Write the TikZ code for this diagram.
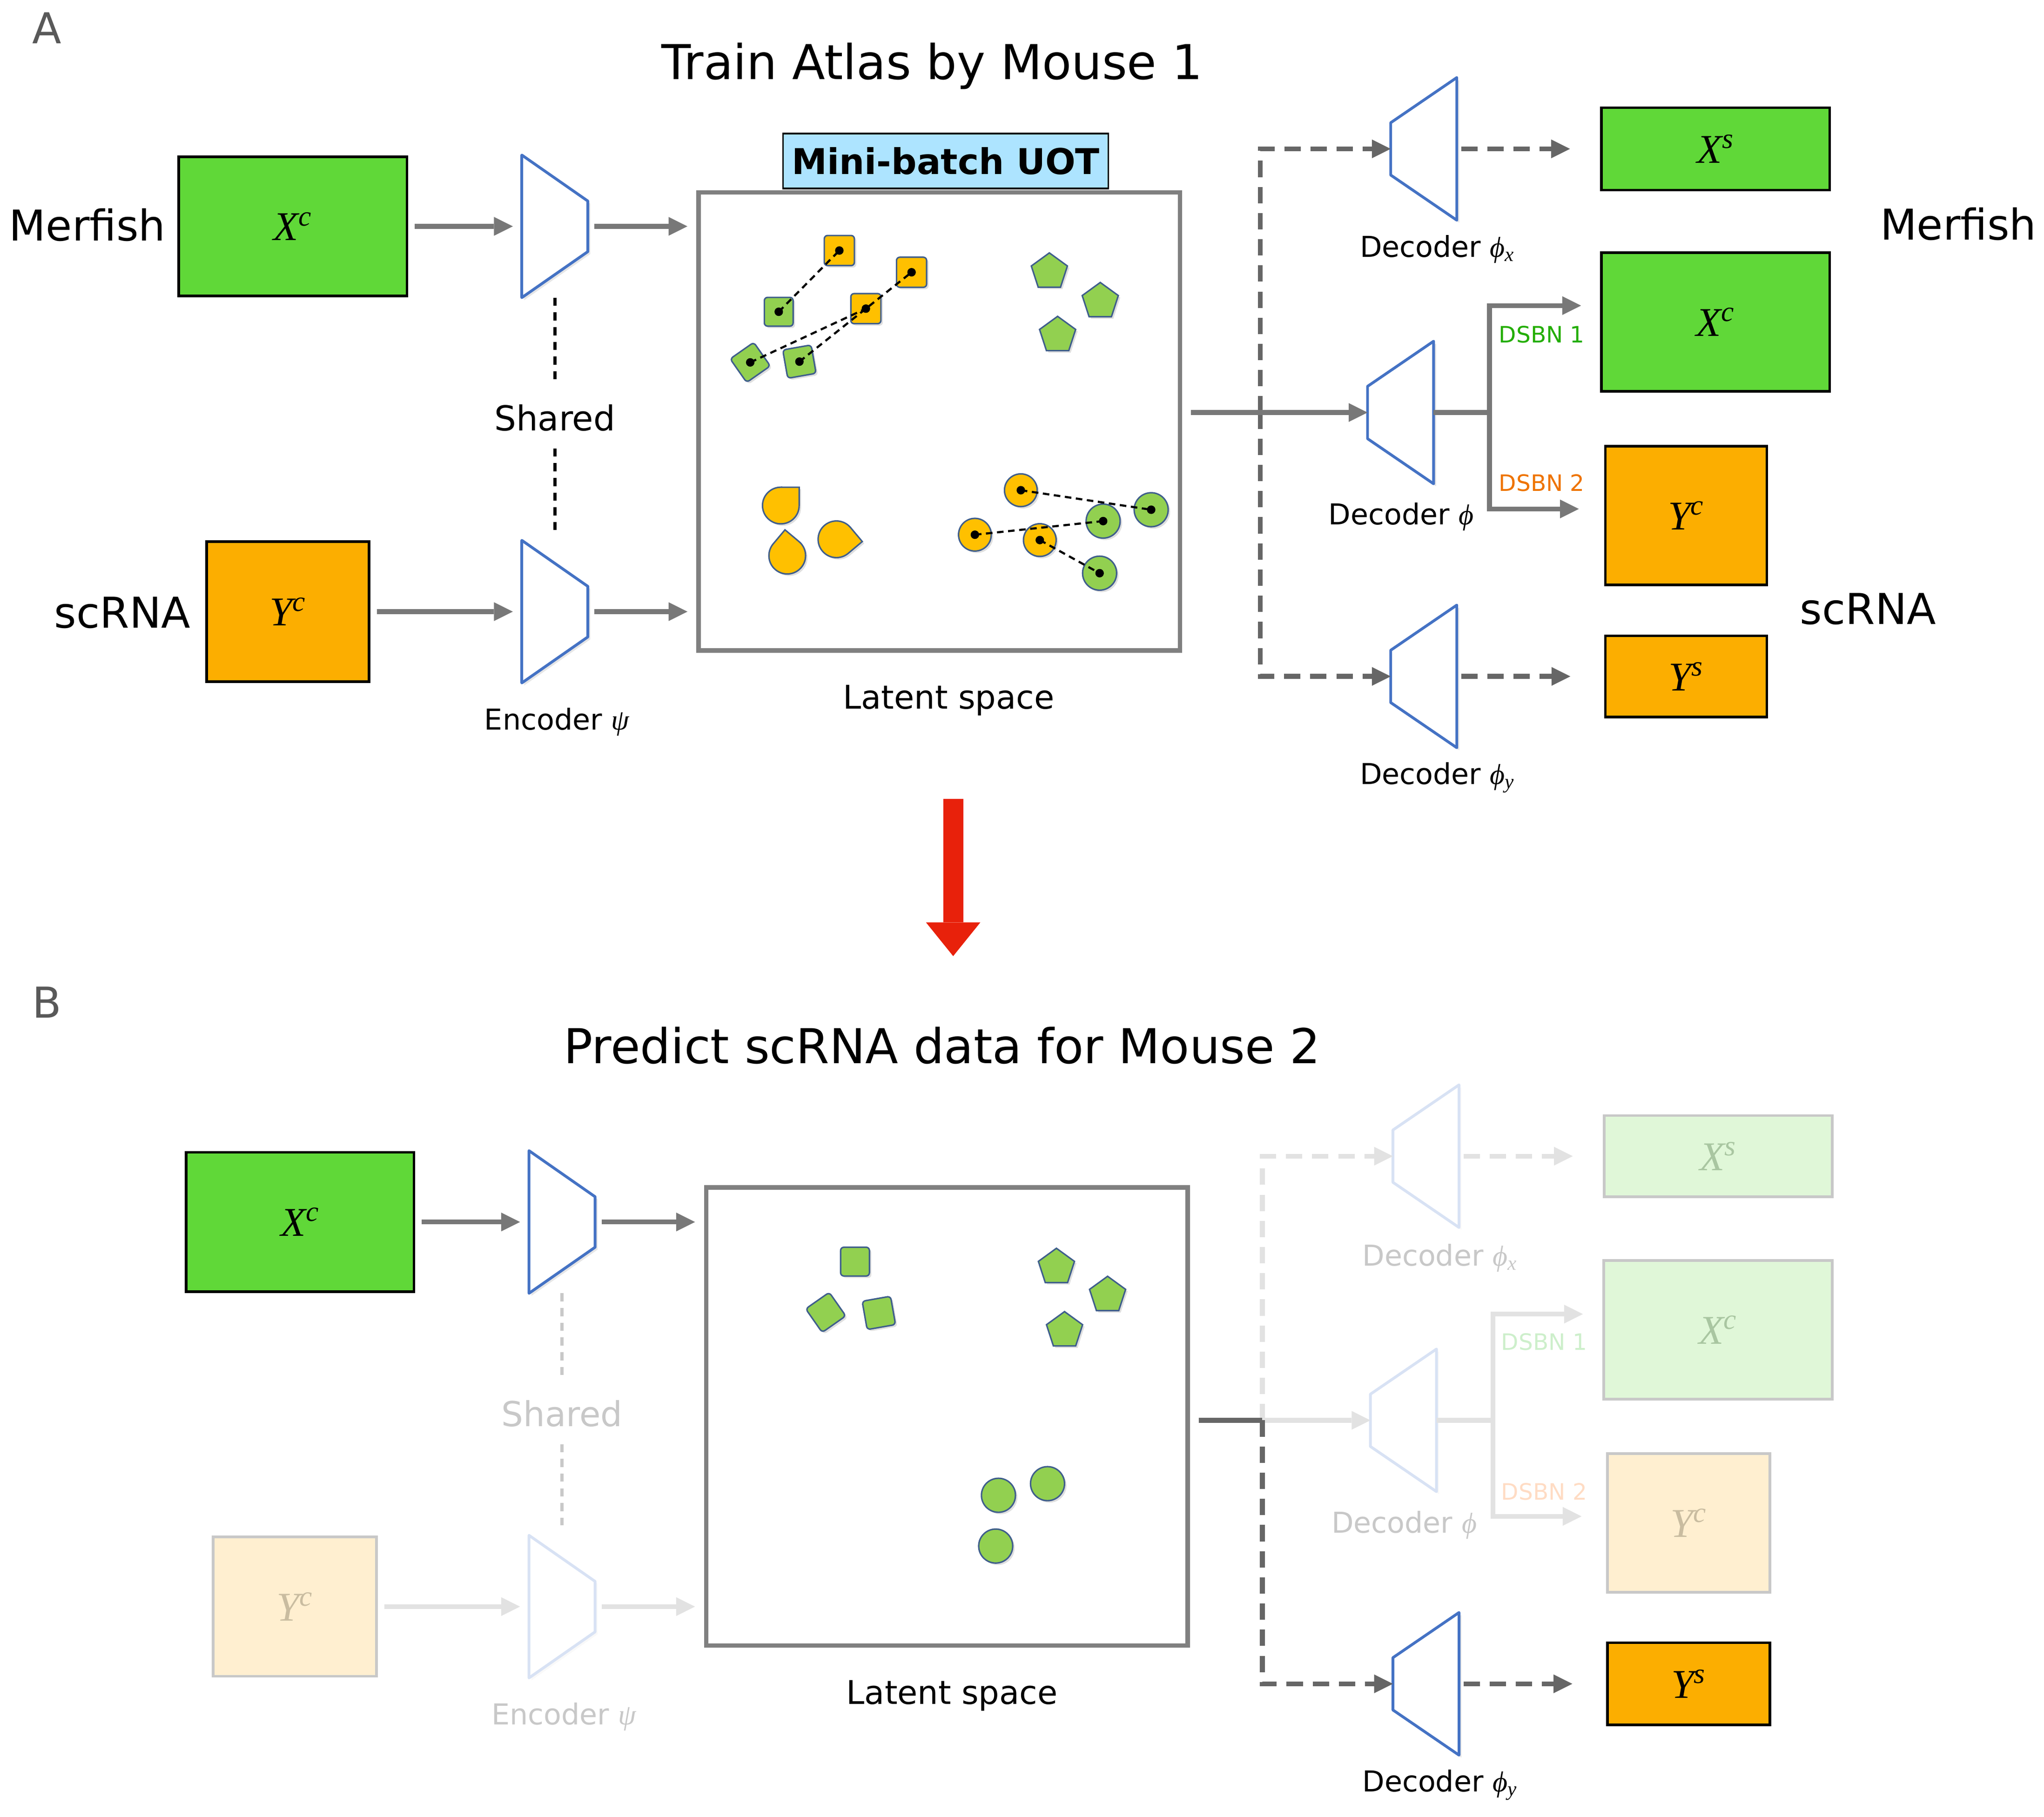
\documentclass[tikz,border=0pt]{standalone}
\usepackage{fontspec}
\setmainfont{DejaVu Sans}
\newfontfamily\mathser{Liberation Serif}
\usetikzlibrary{arrows.meta, positioning, shapes.geometric, calc, shadows}
\definecolor{boxgreen}{HTML}{60D838}
\definecolor{boxorange}{HTML}{FCAE00}
\definecolor{ptgreen}{HTML}{92D050}
\definecolor{ptorange}{HTML}{FFC000}
\definecolor{ptedge}{HTML}{3F5E8C}
\definecolor{trapblue}{HTML}{4472C4}
\definecolor{uotblue}{HTML}{ADE4FF}
\definecolor{arrgray}{HTML}{787878}
\definecolor{dashgray}{HTML}{666666}
\definecolor{latgray}{HTML}{808080}
\definecolor{panelgray}{HTML}{595959}
\definecolor{redarrow}{HTML}{E8210B}
\definecolor{dsbngreen}{HTML}{22AD00}
\definecolor{dsbnorange}{HTML}{EE7300}
\definecolor{fadeline}{HTML}{C8C8C8}
\definecolor{fadegreen}{HTML}{E0F7D8}
\definecolor{fadeorange}{HTML}{FFEFD0}
\definecolor{fadegtext}{HTML}{A9C6A1}
\definecolor{fadeotext}{HTML}{C9BCA0}
\definecolor{fadeblue}{HTML}{D8E2F4}
\definecolor{fadearr}{HTML}{E2E2E2}
\definecolor{fadetext}{HTML}{C8C8C8}
\definecolor{fadedsbng}{HTML}{CDEFCB}
\definecolor{fadedsbno}{HTML}{FFDCC4}
\def\pu{0.02812cm}
\newcommand{\boxvar}[2]{{\mathser\itshape #1\textsuperscript{#2}}}
\newcommand{\phisub}[1]{{\mathser\itshape ϕ\textsubscript{#1}}}
\newcommand{\psisym}{{\mathser\itshape ψ}}

\begin{document}
\begin{tikzpicture}[x=\pu, y=-\pu,
  every node/.style={font=\fontsize{17.6pt}{21pt}\selectfont},
  ttl/.style={font=\fontsize{29.4pt}{35pt}\selectfont, anchor=base},
  sidelab/.style={font=\fontsize{26pt}{31pt}\selectfont, anchor=base},
  panlab/.style={sidelab, text=panelgray},
  declab/.style={anchor=base},
  shlab/.style={font=\fontsize{21pt}{25pt}\selectfont, anchor=base, inner sep=0pt},
  latlab/.style={font=\fontsize{20pt}{24pt}\selectfont, anchor=base},
  dsbn/.style={font=\fontsize{13.8pt}{16pt}\selectfont, anchor=base},
  gbox/.style={rectangle, draw=black, line width=1.6pt, fill=boxgreen, inner sep=0pt, font=\fontsize{25pt}{30pt}\selectfont},
  obox/.style={gbox, fill=boxorange},
  fgbox/.style={gbox, draw=fadeline, fill=fadegreen, text=fadegtext},
  fobox/.style={gbox, draw=fadeline, fill=fadeorange, text=fadeotext},
  latbox/.style={rectangle, draw=latgray, line width=2.6pt, minimum width=368*\pu, minimum height=350*\pu},
  uotbox/.style={rectangle, draw=black, line width=1pt, fill=uotblue, minimum width=248.5*\pu, minimum height=42*\pu, inner sep=0pt, font=\fontsize{21.7pt}{26pt}\selectfont\bfseries},
  trapbox/.style={rectangle, inner sep=0pt, minimum width=50*\pu, minimum height=108.5*\pu},
  trapln/.style={draw=trapblue, fill=white, line width=1.7pt, line join=round, drop shadow={shadow xshift=1.5pt, shadow yshift=-1.5pt, opacity=0.2}},
  ftrapln/.style={draw=fadeblue, fill=white, line width=1.7pt, line join=round, drop shadow={shadow xshift=1.5pt, shadow yshift=-1.5pt, opacity=0.05}},
  arr/.style={-{Triangle[length=11.5pt, width=11.5pt, line width=0pt]}, line width=3pt, draw=arrgray},
  gaparr/.style={arr, shorten <=4pt, shorten >=5.5pt},
  farr/.style={arr, draw=fadearr},
  fgaparr/.style={gaparr, draw=fadearr},
  plainln/.style={line width=3pt, draw=arrgray},
  fplainln/.style={plainln, draw=fadearr},
  darr/.style={arr, draw=dashgray, dash pattern=on 10pt off 6pt},
  fdarr/.style={darr, draw=fadearr},
  dotln/.style={line width=2pt, dash pattern=on 5pt off 4pt},
  fdotln/.style={dotln, draw=fadeline},
  sharedtop/.style={shorten >=14pt},
  sharedbot/.style={shorten <=10.3pt, shorten >=6.2pt},
  matchln/.style={line width=1.3pt, dash pattern=on 4pt off 2.8pt},
  gsq/.style={rectangle, rounded corners=2pt, draw=ptedge, line width=0.9pt, fill=ptgreen, minimum size=22*\pu, inner sep=0pt, drop shadow={shadow xshift=1.2pt, shadow yshift=-1.2pt, opacity=0.25}},
  osq/.style={gsq, fill=ptorange, minimum size=23*\pu},
  gpent/.style={regular polygon, regular polygon sides=5, draw=ptedge, line width=0.9pt, fill=ptgreen, minimum size=29*\pu, inner sep=0pt, drop shadow={shadow xshift=1.2pt, shadow yshift=-1.2pt, opacity=0.25}},
  gdot/.style={circle, draw=ptedge, line width=0.9pt, fill=ptgreen, minimum size=26*\pu, inner sep=0pt, drop shadow={shadow xshift=1.2pt, shadow yshift=-1.2pt, opacity=0.25}},
  odot/.style={gdot, fill=ptorange, minimum size=25*\pu},
  tear/.style={draw=ptedge, line width=0.9pt, fill=ptorange, drop shadow={shadow xshift=1.2pt, shadow yshift=-1.2pt, opacity=0.25}},
  redarr/.style={-{Triangle[length=20.6pt, width=33.2pt, line width=0pt]}, line width=12.2pt, draw=redarrow},
]
\useasboundingbox (0,0) rectangle (1562,1388.8);

% ---------------- Panel A ----------------
\node[panlab] (labA) at (36,33.4) {A};
\node[ttl] (titleA) at (712.3,60.7) {Train Atlas by Mouse 1};
\node[sidelab] (mfA) at (66.8,184.2) {Merfish};
\node[sidelab] (scA) at (93.5,480) {scRNA};
\node[sidelab] (mfA2) at (1496.5,183.2) {Merfish};
\node[sidelab] (scA2) at (1427.5,477.1) {scRNA};

% Inputs
\node[gbox, minimum width=174.5*\pu, minimum height=106.3*\pu] (xcA) at (223.8,173) {\boxvar{X}{c}};
\node[obox, minimum width=124*\pu, minimum height=107*\pu] (ycA) at (220,467.5) {\boxvar{Y}{c}};

% Encoders
\node[trapbox] (encA1) at (424,173) {};
\node[trapbox] (encA2) at (424,467.5) {};
\draw[trapln] (encA1.north west) -- ($(encA1.north east)+(0,35.2)$) -- ($(encA1.south east)+(0,-35.2)$) -- (encA1.south west) -- cycle;
\draw[trapln] (encA2.north west) -- ($(encA2.north east)+(0,35.2)$) -- ($(encA2.south east)+(0,-35.2)$) -- (encA2.south west) -- cycle;
\node[shlab] (shA) at (424,329.3) {Shared};
\node[declab] (encLabA) at (425.5,557.9) {Encoder \psisym};

% Latent space
\node[latbox] (latA) at (717.8,322.2) {};
\node[uotbox] (uotA) at (722.7,123) {Mini-batch UOT};
\node[latlab] (latLabA) at (725,542) {Latent space};

% Decoders
\node[trapbox] (decxA) at (1088,113.8) {};
\node[trapbox] (decA) at (1070.3,315.3) {};
\node[trapbox] (decyA) at (1088,517) {};
\draw[trapln] ($(decxA.north west)+(0,34.5)$) -- (decxA.north east) -- (decxA.south east) -- ($(decxA.south west)+(0,-34.5)$) -- cycle;
\draw[trapln] ($(decA.north west)+(0,34.5)$) -- (decA.north east) -- (decA.south east) -- ($(decA.south west)+(0,-34.5)$) -- cycle;
\draw[trapln] ($(decyA.north west)+(0,34.5)$) -- (decyA.north east) -- (decyA.south east) -- ($(decyA.south west)+(0,-34.5)$) -- cycle;
\node[declab] (decxLabA) at (1098.4,196.6) {Decoder \phisub{x}};
\node[declab] (decLabA) at (1070.7,400.9) {Decoder {\mathser\itshape ϕ}};
\node[declab] (decyLabA) at (1098.4,599.4) {Decoder \phisub{y}};
\node[dsbn, text=dsbngreen] (ds1A) at (1178.2,262) {DSBN 1};
\node[dsbn, text=dsbnorange] (ds2A) at (1178.2,375.5) {DSBN 2};

% Outputs
\node[gbox, minimum width=174.5*\pu, minimum height=63*\pu] (xsA) at (1311,113.8) {\boxvar{X}{s}};
\node[gbox, minimum width=174.5*\pu, minimum height=106*\pu] (xcA2) at (1311,246.2) {\boxvar{X}{c}};
\node[obox, minimum width=123.5*\pu, minimum height=106*\pu] (ycA2) at (1288.5,394) {\boxvar{Y}{c}};
\node[obox, minimum width=123.5*\pu, minimum height=62*\pu] (ysA) at (1288.5,517) {\boxvar{Y}{s}};

% Cells in latent space
\node[osq] (oq1) at (641.4,191.5) {};
\node[osq] (oq2) at (696.6,208.1) {};
\node[osq] (oq3) at (661.7,235.9) {};
\node[gsq] (gq1) at (595.1,238.3) {};
\node[gsq, rotate=35] (gq2) at (573.3,277) {};
\node[gsq, rotate=10] (gq3) at (610.9,276.4) {};
\node[gpent] (pA1) at (801.9,207.8) {};
\node[gpent] (pA2) at (840.8,230.4) {};
\node[gpent] (pA3) at (808.2,256.3) {};
\coordinate (td1) at (596.7,386.4);
\coordinate (td2) at (601.6,424.7);
\coordinate (td3) at (639.2,412.2);
\draw[tear] ($(td1)+(90:0.394cm)$) arc[start angle=90, end angle=360, radius=0.394cm] -- ($(td1)+(45:0.557cm)$) -- cycle;
\draw[tear] ($(td2)+(140:0.394cm)$) arc[start angle=140, end angle=410, radius=0.394cm] -- ($(td2)+(95:0.557cm)$) -- cycle;
\draw[tear] ($(td3)+(40:0.394cm)$) arc[start angle=40, end angle=310, radius=0.394cm] -- ($(td3)+(-5:0.557cm)$) -- cycle;
\node[odot] (oc1) at (780.1,374.7) {};
\node[odot] (oc2) at (745,408.7) {};
\node[odot] (oc3) at (794.6,412.8) {};
\node[gdot] (gc1) at (879.7,389.6) {};
\node[gdot] (gc2) at (843,398.3) {};
\node[gdot] (gc3) at (840.3,438.1) {};

% UOT matches
\draw[matchln] (gq1.center) -- (oq1.center);
\draw[matchln] (gq2.center) -- (oq3.center);
\draw[matchln] (gq3.center) -- (oq2.center);
\draw[matchln] (oc1.center) -- (gc1.center);
\draw[matchln] (oc2.center) -- (gc2.center);
\draw[matchln] (oc3.center) -- (gc3.center);
\fill (oq1) circle[radius=2.6pt];
\fill (oq2) circle[radius=2.6pt];
\fill (oq3) circle[radius=2.6pt];
\fill (gq1) circle[radius=2.6pt];
\fill (gq2) circle[radius=2.6pt];
\fill (gq3) circle[radius=2.6pt];
\fill (oc1) circle[radius=2.6pt];
\fill (oc2) circle[radius=2.6pt];
\fill (oc3) circle[radius=2.6pt];
\fill (gc1) circle[radius=2.6pt];
\fill (gc2) circle[radius=2.6pt];
\fill (gc3) circle[radius=2.6pt];

% Connections A
\coordinate (tapA) at (963,315.3);
\coordinate (brA) at (1138.3,315.3);
\coordinate (toXcA) at (1208.2,233.6);
\coordinate (toYcA) at (1206.5,389);
\draw[gaparr] (xcA) -- (encA1);
\draw[gaparr] (encA1) -- (encA1 -| latA.west);
\draw[gaparr] (ycA) -- (encA2);
\draw[gaparr] (encA2) -- (encA2 -| latA.west);
\draw[dotln, sharedtop] (encA1.south) -- (shA.north);
\draw[dotln, sharedbot] (shA.south) -- (encA2.north);
\draw[darr] (tapA) |- (decxA);
\draw[darr] (tapA) |- (decyA);
\draw[arr, shorten <=5.4pt] (latA.east |- decA) -- (decA);
\draw[plainln] (decA) -- (brA);
\draw[arr] (brA) |- (toXcA);
\draw[arr] (brA) |- (toYcA);
\draw[darr, shorten <=2.7pt, shorten >=18.4pt] (decxA) -- (decxA -| xsA.west);
\draw[darr, shorten <=2.7pt, shorten >=20.6pt] (decyA) -- (decyA -| ysA.west);

% Step arrow
\coordinate (redS) at (728.4,610.7);
\coordinate (redE) at (728.4,730.8);
\draw[redarr] (redS) -- (redE);

% ---------------- Panel B ----------------
\node[panlab] (labB) at (36,778) {B};
\node[ttl] (titleB) at (720,813) {Predict scRNA data for Mouse 2};

% Inputs
\node[gbox, minimum width=174*\pu, minimum height=106.5*\pu] (xcB) at (229.3,934) {\boxvar{X}{c}};
\node[fobox, minimum width=124.7*\pu, minimum height=106.5*\pu] (ycB) at (225.3,1228) {\boxvar{Y}{c}};

% Encoders
\node[trapbox] (encB1) at (429.5,934) {};
\node[trapbox] (encB2) at (429.5,1228) {};
\draw[trapln] (encB1.north west) -- ($(encB1.north east)+(0,35.2)$) -- ($(encB1.south east)+(0,-35.2)$) -- (encB1.south west) -- cycle;
\draw[ftrapln] (encB2.north west) -- ($(encB2.north east)+(0,35.2)$) -- ($(encB2.south east)+(0,-35.2)$) -- (encB2.south west) -- cycle;
\node[shlab, text=fadetext] (shB) at (429.5,1090.3) {Shared};
\node[declab, text=fadetext] (encLabB) at (431,1318.2) {Encoder \psisym};

% Latent space
\node[latbox] (latB) at (723.6,1082.6) {};
\node[latlab] (latLabB) at (727.5,1302.4) {Latent space};

% Decoders
\node[trapbox] (decxB) at (1089.7,883.7) {};
\node[trapbox] (decB) at (1072.5,1085.6) {};
\node[trapbox] (decyB) at (1089.7,1287) {};
\draw[ftrapln] ($(decxB.north west)+(0,34.5)$) -- (decxB.north east) -- (decxB.south east) -- ($(decxB.south west)+(0,-34.5)$) -- cycle;
\draw[ftrapln] ($(decB.north west)+(0,34.5)$) -- (decB.north east) -- (decB.south east) -- ($(decB.south west)+(0,-34.5)$) -- cycle;
\draw[trapln] ($(decyB.north west)+(0,34.5)$) -- (decyB.north east) -- (decyB.south east) -- ($(decyB.south west)+(0,-34.5)$) -- cycle;
\node[declab, text=fadetext] (decxLabB) at (1100.3,967.4) {Decoder \phisub{x}};
\node[declab, text=fadetext] (decLabB) at (1073,1171.7) {Decoder {\mathser\itshape ϕ}};
\node[declab] (decyLabB) at (1100.3,1369.5) {Decoder \phisub{y}};
\node[dsbn, text=fadedsbng] (ds1B) at (1180,1032) {DSBN 1};
\node[dsbn, text=fadedsbno] (ds2B) at (1180,1146.3) {DSBN 2};

% Outputs
\node[fgbox, minimum width=174.2*\pu, minimum height=62*\pu] (xsB) at (1313,883.7) {\boxvar{X}{s}};
\node[fgbox, minimum width=174.5*\pu, minimum height=106*\pu] (xcB2) at (1312.9,1016.4) {\boxvar{X}{c}};
\node[fobox, minimum width=124.2*\pu, minimum height=106*\pu] (ycB2) at (1290.4,1164.1) {\boxvar{Y}{c}};
\node[obox, minimum width=124.2*\pu, minimum height=62.8*\pu] (ysB) at (1290.4,1287) {\boxvar{Y}{s}};

% Cells in latent space
\node[gsq] (gqB1) at (653.4,964.3) {};
\node[gsq, rotate=35] (gqB2) at (631,1003.1) {};
\node[gsq, rotate=10] (gqB3) at (671.6,1003.5) {};
\node[gpent] (pB1) at (807.3,968.6) {};
\node[gpent] (pB2) at (846.4,990) {};
\node[gpent] (pB3) at (813.5,1017) {};
\node[gdot] (gcB1) at (800.5,1134) {};
\node[gdot] (gcB2) at (763,1142.9) {};
\node[gdot] (gcB3) at (760.9,1181.7) {};

% Connections B
\coordinate (tapB) at (964.6,1085.6);
\coordinate (brB) at (1140.9,1085.6);
\coordinate (toXcB) at (1209.6,1004.4);
\coordinate (toYcB) at (1208.6,1159);
\draw[gaparr] (xcB) -- (encB1);
\draw[gaparr] (encB1) -- (encB1 -| latB.west);
\draw[fgaparr] (ycB) -- (encB2);
\draw[fgaparr] (encB2) -- (encB2 -| latB.west);
\draw[fdotln, sharedtop] (encB1.south) -- (shB.north);
\draw[fdotln, sharedbot] (shB.south) -- (encB2.north);
\draw[farr] (tapB) -- (decB);
\draw[fplainln] (decB) -- (brB);
\draw[farr] (brB) |- (toXcB);
\draw[farr] (brB) |- (toYcB);
\draw[fdarr] (tapB) |- (decxB);
\draw[fdarr, shorten <=2.7pt, shorten >=18.4pt] (decxB) -- (decxB -| xsB.west);
\draw[plainln, draw=dashgray, shorten <=5.4pt] (latB.east |- tapB) -- (tapB);
\draw[darr] (tapB) |- (decyB);
\draw[darr, shorten <=2.7pt, shorten >=20.6pt] (decyB) -- (decyB -| ysB.west);

\end{tikzpicture}
\end{document}
